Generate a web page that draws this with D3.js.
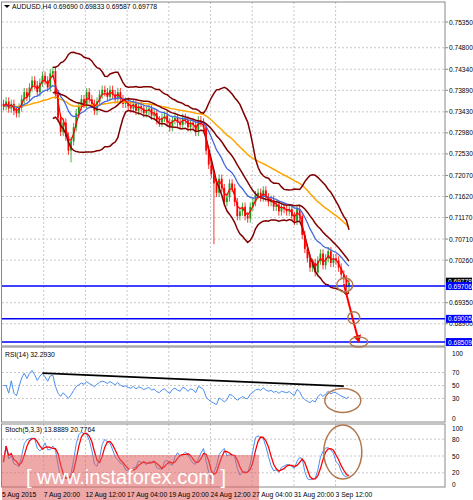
<!DOCTYPE html>
<html><head><meta charset="utf-8">
<script src="https://cdn.jsdelivr.net/npm/d3@7"></script>
<style>body{margin:0;background:#fff}text{font-family:"Liberation Sans",Arial,sans-serif}</style>
</head><body><div id="chart"></div>
<script>
var closes = [0.7355,0.7365,0.7350,0.7360,0.7345,0.7340,0.7352,0.7370,0.7385,0.7375,0.7395,0.7410,0.7400,0.7385,0.7405,0.7420,
0.7410,0.7395,0.7425,0.7430,0.7380,0.7330,0.7300,0.7320,0.7290,
0.7260,0.7280,0.7310,0.7340,0.7355,0.7370,0.7360,0.7385,0.7370,
0.7360,0.7345,0.7365,0.7380,0.7390,0.7385,0.7375,0.7390,0.7380,0.7370,0.7385,0.7370,0.7360,0.7365,0.7355,0.7350,0.7360,0.7345,0.7355,0.7350,0.7340,0.7345,0.7350,
0.7335,0.7340,0.7325,0.7320,0.7330,0.7335,0.7320,0.7310,0.7325,0.7330,0.7320,0.7315,0.7330,0.7325,0.7310,0.7320,0.7315,0.7300,0.7325,0.7320,0.7310,
0.7260,0.7230,0.7210,0.7190,0.7170,0.7200,0.7180,0.7150,0.7160,0.7190,0.7180,0.7150,0.7120,
0.7130,0.7140,0.7120,0.7115,0.7140,0.7150,0.7165,0.7170,0.7160,0.7175,0.7160,0.7150,0.7155,0.7140,0.7145,0.7130,0.7140,0.7135,0.7130,0.7135,
0.7120,0.7110,0.7135,0.7120,0.7080,0.7050,0.7030,0.7010,0.7020,0.7000,0.7025,0.7040,0.7015,0.7030,0.7045,0.7020,0.7030,0.7025,0.7010,0.6995,0.6985,0.6970,0.6978];
var priceTicks = [0.75350,0.74800,0.74340,0.73890,0.73430,0.72980,0.72530,0.72070,0.71620,0.71170,0.70710,0.70260,0.69350,0.68900];
var levels = [0.69706,0.69005,0.68509];
var timeLabels = ["5 Aug 2015","7 Aug 20:00","12 Aug 12:00","17 Aug 04:00","19 Aug 20:00","24 Aug 12:00","27 Aug 04:00","31 Aug 20:00","3 Sep 12:00"];
var rsiTicks = [100,70,50,30,0], stochTicks = [100,80,50,20,0];

var W = 473, H = 500, R = 445;
var svg = d3.select("#chart").append("svg").attr("width", W).attr("height", H);
var x = d3.scaleLinear().domain([0, 133]).range([3.5, 349]);
var y = d3.scaleLinear().domain([0.6851, 0.7535]).range([342, 22]);
var yR = d3.scaleLinear().domain([0, 100]).range([418, 353]);
var yS = d3.scaleLinear().domain([0, 100]).range([484, 428]);

function sma(a, n){ return a.map(function(d,i){ if(i<n-1) return null; return d3.mean(a.slice(i-n+1,i+1)); }); }
function sd(a, n){ return a.map(function(d,i){ if(i<n-1) return null; return d3.deviation(a.slice(i-n+1,i+1))*Math.sqrt((n-1)/n); }); }
function ema(a, n){ var k=2/(n+1), out=[], p=a[0]; a.forEach(function(d){ p = d*k + p*(1-k); out.push(p); }); return out; }

var opens = closes.map(function(c,i){ return i ? closes[i-1] : c + 0.0005; });
var highs = closes.map(function(c,i){ return Math.max(c, opens[i]) + 0.0009; });
var lows = closes.map(function(c,i){ return Math.min(c, opens[i]) - 0.0009; });
lows[81] = 0.7060; lows[26] = 0.7235;

function panel(y0, y1){
  svg.append("rect").attr("x",1.5).attr("y",y0).attr("width",R-1.5).attr("height",y1-y0).attr("fill","none").attr("stroke","#888");
}
var grid = svg.append("g").attr("stroke","#c8c8c8").attr("stroke-dasharray","2,2");
timeLabels.forEach(function(t,i){ var gx = 2 + i*41.7; [[2,346],[347,422],[424,487]].forEach(function(p){ if(i>0) grid.append("line").attr("x1",gx).attr("x2",gx).attr("y1",p[0]).attr("y2",p[1]); }); });
priceTicks.forEach(function(p){ grid.append("line").attr("x1",2).attr("x2",R).attr("y1",y(p)).attr("y2",y(p)); });
rsiTicks.slice(1,4).forEach(function(v){ grid.append("line").attr("x1",2).attr("x2",R).attr("y1",yR(v)).attr("y2",yR(v)); });
stochTicks.slice(1,4).forEach(function(v){ grid.append("line").attr("x1",2).attr("x2",R).attr("y1",yS(v)).attr("y2",yS(v)); });
panel(2,346); panel(347,422); panel(424,487);

var main = svg.append("g");
var line = d3.line().defined(function(d){return d!=null;}).x(function(d,i){return x(i);}).y(function(d){return y(d);});
var mid = sma(closes,20), dev = sd(closes,20);
var upper = mid.map(function(m,i){ return m==null?null:m+2*dev[i]; });
var lower = mid.map(function(m,i){ return m==null?null:m-2*dev[i]; });
closes.forEach(function(c,i){
  var up = c >= opens[i], col = up ? "#1a9a1a" : "#ff0000";
  main.append("line").attr("x1",x(i)).attr("x2",x(i)).attr("y1",y(highs[i])).attr("y2",y(lows[i])).attr("stroke",col).attr("stroke-width",0.8);
  main.append("rect").attr("x",x(i)-0.9).attr("width",1.8).attr("y",y(Math.max(c,opens[i]))).attr("height",Math.max(0.8,Math.abs(y(c)-y(opens[i])))).attr("fill",col);
});
main.append("path").datum(ema(closes,50)).attr("d",line).attr("fill","none").attr("stroke","#ffa500").attr("stroke-width",1.5);
main.append("path").datum(ema(closes,14)).attr("d",line).attr("fill","none").attr("stroke","#4169e1").attr("stroke-width",1.3);
[upper,mid,lower].forEach(function(b){ main.append("path").datum(b).attr("d",line).attr("fill","none").attr("stroke","#800000").attr("stroke-width",1.5); });
main.append("path").datum(ema(closes,3)).attr("d",line).attr("fill","none").attr("stroke","#ff0000").attr("stroke-width",1.2);

levels.forEach(function(l){ main.append("line").attr("x1",2).attr("x2",R).attr("y1",y(l)).attr("y2",y(l)).attr("stroke","#0000ff").attr("stroke-width",1.5); });

svg.append("defs").append("marker").attr("id","ah").attr("viewBox","0 0 10 10").attr("refX",8).attr("refY",5)
  .attr("markerWidth",4).attr("markerHeight",4).attr("orient","auto").append("path").attr("d","M0,0L10,5L0,10z").attr("fill","#ff0000");
main.append("path").attr("d","M"+x(131)+","+y(0.6975)+"L"+(x(131)+9)+","+y(0.6900)+"L"+(x(131)+15)+","+y(0.6852))
  .attr("fill","none").attr("stroke","#ff0000").attr("stroke-width",2).attr("marker-end","url(#ah)");
var brown = "#b07850";
[[x(131)+1,y(0.6973),8,7],[x(131)+10,y(0.6903),6,6],[x(131)+15,y(0.6851),9,5]].forEach(function(e){
  main.append("ellipse").attr("cx",e[0]).attr("cy",e[1]).attr("rx",e[2]).attr("ry",e[3]).attr("fill","none").attr("stroke",brown).attr("stroke-width",1.5);
});

var ax = svg.append("g").attr("font-size",6.6).attr("fill","#000");
priceTicks.forEach(function(p){
  ax.append("line").attr("x1",R).attr("x2",R+3).attr("y1",y(p)).attr("y2",y(p)).attr("stroke","#888");
  ax.append("text").attr("x",R+4).attr("y",y(p)+2.5).text(p.toFixed(5));
});
ax.append("rect").attr("x",R+1).attr("y",y(0.69778)-5).attr("width",26).attr("height",8).attr("fill","#000");
ax.append("text").attr("x",R+3).attr("y",y(0.69778)+1.5).attr("fill","#fff").text("0.69778");
levels.forEach(function(l){
  ax.append("rect").attr("x",R+1).attr("y",y(l)-4).attr("width",26).attr("height",8).attr("fill","#0000ff");
  ax.append("text").attr("x",R+3).attr("y",y(l)+2.5).attr("fill","#fff").text(l.toFixed(5));
});
svg.append("path").attr("d","M4,5L10,5L7,8z").attr("fill","#000");
svg.append("text").attr("x",12).attr("y",9).attr("font-size",6.8).text("AUDUSD,H4  0.69690 0.69833 0.69587 0.69778");

var gains=[0], losses=[0];
for(var i=1;i<closes.length;i++){ var d=closes[i]-closes[i-1]; gains.push(Math.max(d,0)); losses.push(Math.max(-d,0)); }
var ag = ema(gains,27), al = ema(losses,27);
var rsi = ag.map(function(g,i){ return al[i]===0?50:100-100/(1+g/al[i]); });
svg.append("path").datum(rsi).attr("d", d3.line().x(function(d,i){return x(i);}).y(function(d){return yR(d);}))
  .attr("fill","none").attr("stroke","#4a8ef0").attr("stroke-width",1);
svg.append("line").attr("x1",x(15)).attr("x2",x(131)).attr("y1",yR(69)).attr("y2",yR(49)).attr("stroke","#000").attr("stroke-width",1.8);
svg.append("ellipse").attr("cx",x(131)-1).attr("cy",yR(27)).attr("rx",18).attr("ry",12).attr("fill","none").attr("stroke",brown).attr("stroke-width",1.5);
svg.append("text").attr("x",5).attr("y",357).attr("font-size",6.8).text("RSI(14) 32.2930");
rsiTicks.forEach(function(v){ ax.append("text").attr("x",R+7).attr("y",yR(v)+2.5).text(v); });

var kRaw = closes.map(function(c,i){ var s=Math.max(0,i-4); var hh=d3.max(highs.slice(s,i+1)), ll=d3.min(lows.slice(s,i+1)); return 100*(c-ll)/(hh-ll); });
var kLine = sma(kRaw,3).map(function(d,i){ return d==null?kRaw[i]:d; });
var dLine = sma(kLine,3).map(function(d,i){ return d==null?kLine[i]:d; });
var sl = d3.line().x(function(d,i){return x(i);}).y(function(d){return yS(d);});
svg.append("path").datum(kLine).attr("d",sl).attr("fill","none").attr("stroke","#4a8ef0").attr("stroke-width",1);
svg.append("path").datum(dLine).attr("d",sl).attr("fill","none").attr("stroke","#ff0000").attr("stroke-width",1.3);
svg.append("ellipse").attr("cx",x(131)-1).attr("cy",452).attr("rx",19).attr("ry",27).attr("fill","none").attr("stroke",brown).attr("stroke-width",1.5);
svg.append("text").attr("x",5).attr("y",432).attr("font-size",6.8).text("Stoch(5,3,3) 13.8889 20.7764");
stochTicks.forEach(function(v){ ax.append("text").attr("x",R+7).attr("y",yS(v)+2.5).text(v); });

svg.append("rect").attr("x",2).attr("y",455).attr("width",257).attr("height",45).attr("fill","#e06060").attr("opacity",0.55);
svg.append("text").attr("x",126).attr("y",484).attr("text-anchor","middle").attr("font-size",20).attr("fill","#fff").text("[ www.instaforex.com ]");

timeLabels.forEach(function(t,i){ svg.append("text").attr("x",2+i*41.7).attr("y",497).attr("font-size",6.8).text(t); });
</script></body></html>
